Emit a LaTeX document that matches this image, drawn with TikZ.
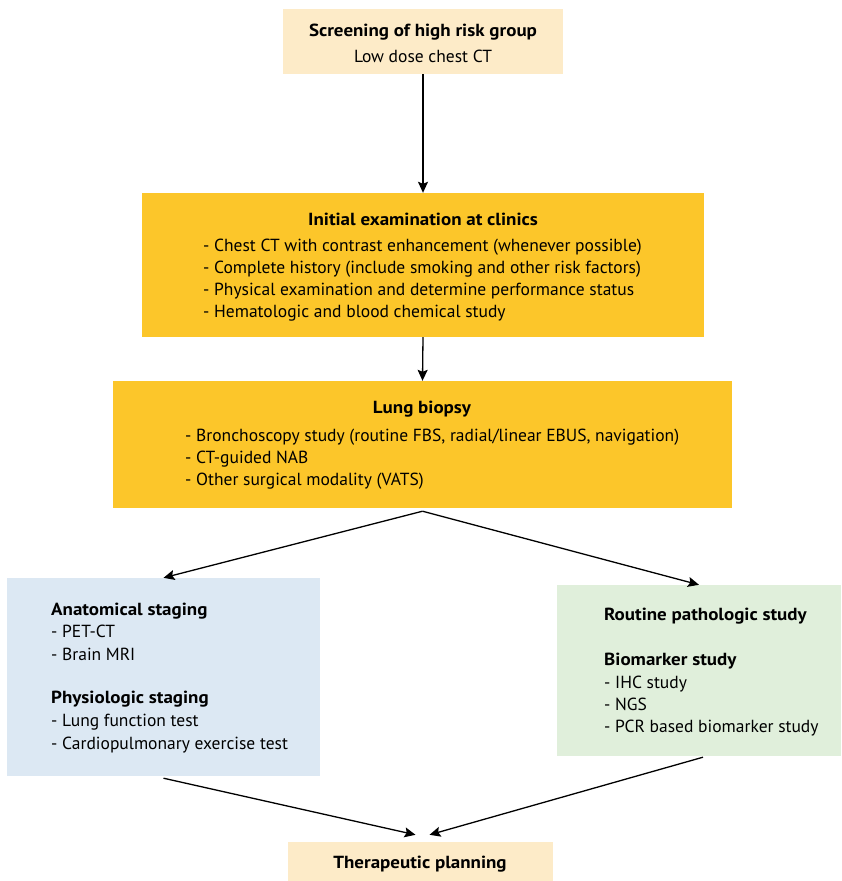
\documentclass[tikz,border=0pt]{standalone}
\usepackage{fontspec}
\setmainfont{PT Sans}[BoldFeatures={FakeStretch=1.085}]
\usetikzlibrary{positioning,arrows.meta}
\definecolor{peach}{HTML}{FDEBC8}
\definecolor{gold}{HTML}{FCC62A}
\definecolor{paleblue}{HTML}{DCE8F3}
\definecolor{palegreen}{HTML}{E0EFDB}

\begin{document}
\begin{tikzpicture}[x=1pt,y=-1pt,font=\fontsize{17.5}{22}\selectfont,
  box/.style={rectangle,inner sep=0pt},
  txt/.style={anchor=base west,inner sep=0pt},
  ttl/.style={anchor=base,inner sep=0pt,font=\fontsize{17.5}{22}\selectfont\bfseries},
  arr/.style={-{Stealth[length=11pt,width=10pt,inset=2pt]},line width=1.3pt}]
\useasboundingbox (0,0) rectangle (841,881);

% boxes
\node[box,fill=peach,minimum width=280,minimum height=65] (screen) at (423,41.5) {};
\node[box,fill=gold,minimum width=562,minimum height=144] (exam) at (423,265) {};
\node[box,fill=gold,minimum width=619,minimum height=127] (biopsy) at (422.5,444.5) {};
\node[box,fill=paleblue,minimum width=313,minimum height=198] (staging) at (163.5,677) {};
\node[box,fill=palegreen,minimum width=284,minimum height=171] (patho) at (699,670.5) {};
\node[box,fill=peach,minimum width=265,minimum height=39] (plan) at (420.5,861.5) {};

% texts
\node[ttl] (screent) at (423,36) {Screening of high risk group};
\node[anchor=base,inner sep=0pt] (screenl) at (423,62) {Low dose chest CT};

\node[ttl] (examt) at (423,225) {Initial examination at clinics};
\foreach \t [count=\i from 0] in {{- Chest CT with contrast enhancement (whenever possible)},
  {- Complete history (include smoking and other risk factors)},
  {- Physical examination and determine performance status},
  {- Hematologic and blood chemical study}}
  \node[txt] (examl\i) at (203,251+22.3*\i) {\t};

\node[ttl] (biopsyt) at (422,413) {Lung biopsy};
\foreach \t [count=\i from 0] in {{- Bronchoscopy study (routine FBS, radial/linear EBUS, navigation)},
  {- CT-guided NAB},{- Other surgical modality (VATS)}}
  \node[txt] (biopsyl\i) at (185,441+22*\i) {\t};

\node[txt,font=\fontsize{17.5}{22}\selectfont\bfseries] (anat) at (51,615) {Anatomical staging};
\node[txt] (anat1) at (51,637) {- PET-CT};
\node[txt] (anat2) at (51,660) {- Brain MRI};
\node[txt,font=\fontsize{17.5}{22}\selectfont\bfseries] (physio) at (51,703) {Physiologic staging};
\node[txt] (physio1) at (51,726) {- Lung function test};
\node[txt] (physio2) at (51,749) {- Cardiopulmonary exercise test};

\node[txt,font=\fontsize{17.5}{22}\selectfont\bfseries] (routine) at (604,620) {Routine pathologic study};
\node[txt,font=\fontsize{17.5}{22}\selectfont\bfseries] (bio) at (604,665) {Biomarker study};
\node[txt] (bio1) at (604,688) {- IHC study};
\node[txt] (bio2) at (604,710) {- NGS};
\node[txt] (bio3) at (604,732) {- PCR based biomarker study};

\node[ttl] (plant) at (420,868) {Therapeutic planning};

% connectors
\coordinate (split) at ([yshift=-3pt]biopsy.south);
\coordinate (stagingout) at ([yshift=-2pt]staging.south);
\coordinate (pathoout) at ([xshift=4pt,yshift=-1pt]patho.south);
\coordinate (planinl) at ([xshift=-5pt,yshift=7pt]plan.north);
\coordinate (planinr) at ([xshift=9pt,yshift=7pt]plan.north);
\draw[arr] (screen.south) -- (exam.north);
\draw[arr] (exam.south) -- (biopsy.north);
\draw[arr] (split) -- (staging.north);
\draw[arr] (split) -- (patho.north);
\draw[arr] (stagingout) -- (planinl);
\draw[arr] (pathoout) -- (planinr);
\end{tikzpicture}
\end{document}
